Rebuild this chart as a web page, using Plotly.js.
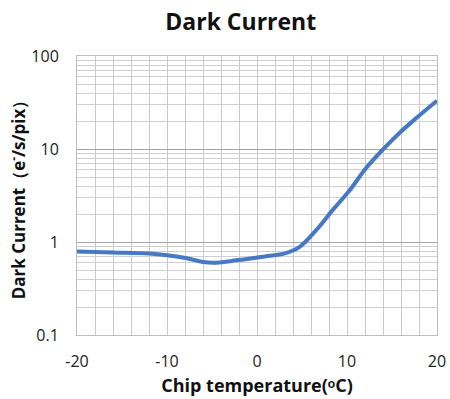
<!DOCTYPE html>
<html><head><meta charset="utf-8">
<script src="https://cdn.plot.ly/plotly-3.0.1.min.js"></script>
<style>html,body{margin:0;padding:0;background:#fff}#c{width:450px;height:399px}</style>
</head><body><div id="c"></div>
<script>
const temps = [-20, -16, -12, -10, -7.8, -6, -4.5, -2.3, 0.7, 3.2, 4.7, 6.6, 8.4, 10.3, 12.1, 14, 15.8, 17.7, 20];
const darkCurrent = [0.79, 0.77, 0.75, 0.72, 0.67, 0.61, 0.60, 0.635, 0.695, 0.76, 0.88, 1.35, 2.2, 3.6, 6.2, 9.9, 14.8, 21.5, 33];
const yTickVals = [0.1, 1, 10, 100];
const yTickText = ['0.1', '1', '10', '100'];
const xTickVals = [-20, -10, 0, 10, 20];

const fontFam = 'Open Sans, Liberation Sans, sans-serif';
Plotly.newPlot('c', [{
  x: temps, y: darkCurrent, type: 'scatter', mode: 'lines',
  line: {color: '#4678C4', width: 4, shape: 'spline', smoothing: 1},
  hoverinfo: 'none'
}], {
  width: 450, height: 399,
  margin: {l: 77, r: 13, t: 56, b: 64},
  paper_bgcolor: '#fff', plot_bgcolor: '#fff',
  showlegend: false,
  title: {text: '<b>Dark Current</b>', x: 0.535, xanchor: 'center', y: 0.945, yanchor: 'middle',
          font: {family: fontFam, size: 23, color: '#111'}},
  xaxis: {
    range: [-20, 20], tickvals: xTickVals, ticktext: xTickVals.map(String),
    showgrid: true, gridcolor: '#c9c9c9', gridwidth: 1,
    minor: {dtick: 2, showgrid: true, gridcolor: '#c9c9c9', gridwidth: 1, ticks: ''},
    zeroline: false, showline: true, linecolor: '#bdbdbd', linewidth: 1, mirror: true,
    ticks: '', ticklabelstandoff: 12, tickfont: {family: fontFam, size: 16, color: '#222'},
    title: {text: '<b>Chip temperature(ᵒC)</b>', font: {family: fontFam, size: 18, color: '#111'}, standoff: 8}
  },
  yaxis: {
    type: 'log', range: [-1, 2], tickvals: yTickVals, ticktext: yTickText,
    showgrid: true, gridcolor: '#a6a6a6', gridwidth: 1,
    minor: {dtick: 'D1', showgrid: true, gridcolor: '#d0d0d0', gridwidth: 1, ticks: ''},
    zeroline: false, showline: true, linecolor: '#bdbdbd', linewidth: 1, mirror: true,
    ticks: '', ticklabelstandoff: 14, tickfont: {family: fontFam, size: 16, color: '#222'},
    title: {text: '<b>Dark Current（e<sup>-</sup>/s/pix）</b>', font: {family: fontFam, size: 17, color: '#111'}, standoff: 1}
  }
}, {displayModeBar: false, staticPlot: true});
</script></body></html>
